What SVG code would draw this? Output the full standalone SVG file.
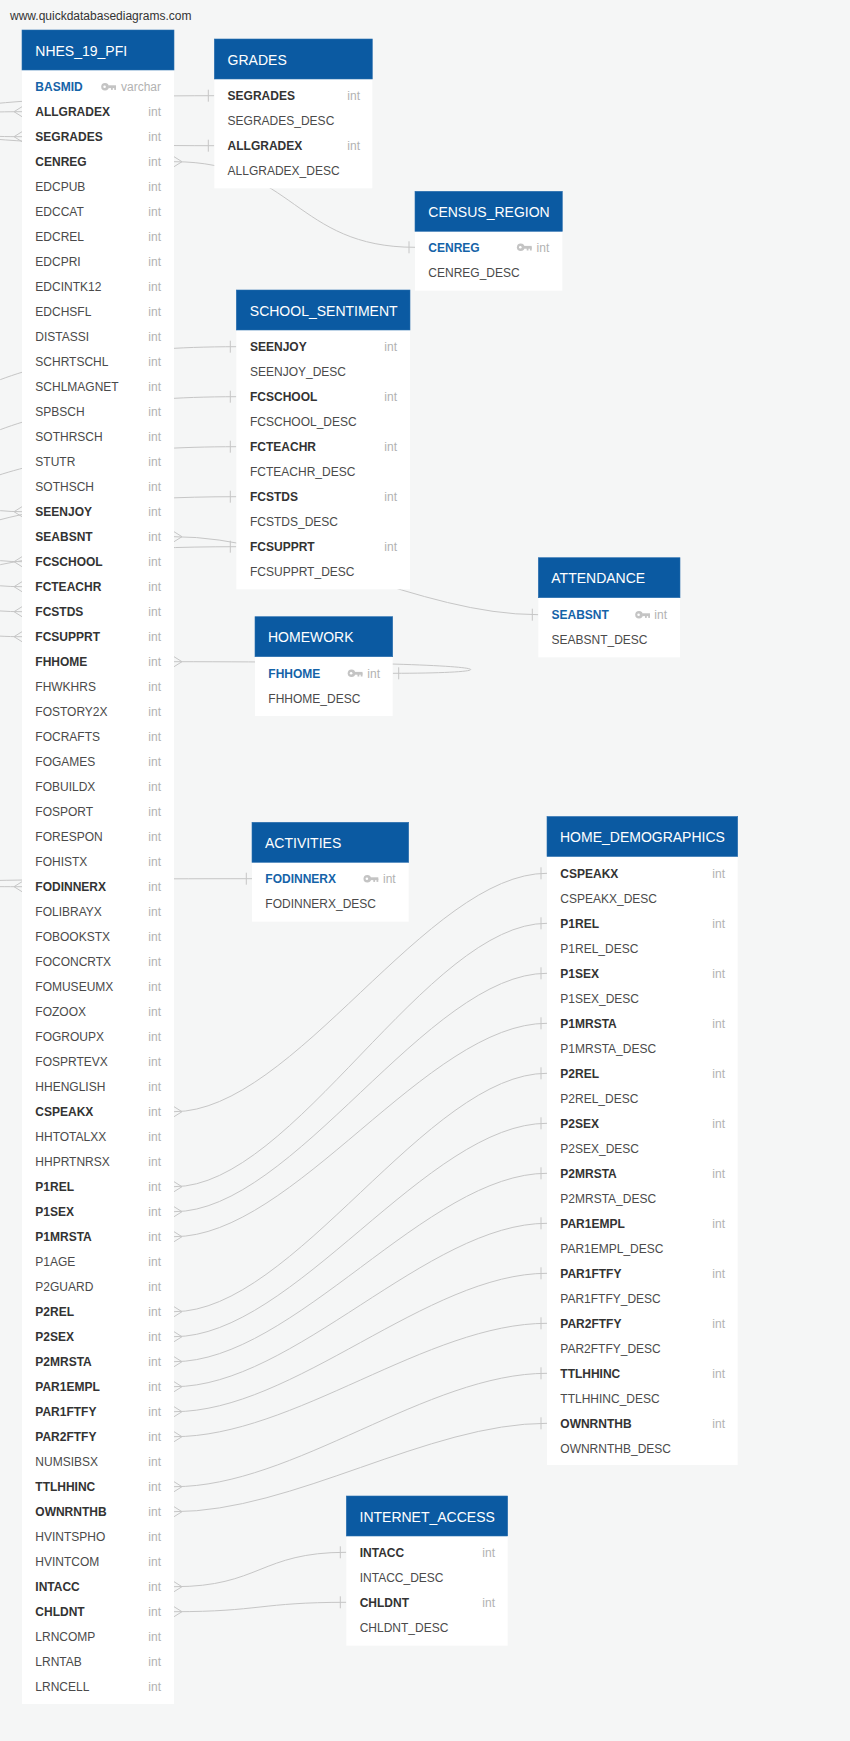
<svg xmlns="http://www.w3.org/2000/svg" xmlns:xlink="http://www.w3.org/1999/xlink" width="850" height="1741" viewBox="0 0 850 1741">
<style>
text{font-family:"Liberation Sans",Arial,sans-serif;}
.hdr{fill:#0b5aa2;stroke:#2a6fb0;stroke-width:0.6}
.body{fill:#ffffff}
.ht{font-size:14px;fill:#ffffff}
.c{font-size:12px;fill:#4a4a4a}
.fk{font-size:12px;fill:#333333;font-weight:bold}
.pk{font-size:12px;fill:#1563a8;font-weight:bold}
.t{font-size:12px;fill:#b2b2b2;text-anchor:end}
.ln{fill:none;stroke:#c6c6c6;stroke-width:1}
.mk{fill:none;stroke:#c6c6c6;stroke-width:1}
.wm{font-size:12px;fill:#333333}
</style>
<defs>
<path id="crowR" class="mk" d="M0,-5 L8,0 L0,5"/>
<path id="crowL" class="mk" d="M0,-5 L-8,0 L0,5"/>
<path id="bar" class="mk" d="M0,-6 V6"/>
<g id="key">
<circle cx="4" cy="0" r="3.8" fill="#c4c4c4"/>
<circle cx="3.6" cy="0" r="1.3" fill="#ffffff"/>
<rect x="7.2" y="-1.4" width="7.8" height="2.8" fill="#c4c4c4"/>
<rect x="10" y="0" width="1.8" height="3.2" fill="#c4c4c4"/>
<rect x="13.2" y="0" width="1.8" height="3.2" fill="#c4c4c4"/>
</g>
</defs>
<rect x="0" y="0" width="850" height="1741" fill="#f5f6f6"/>
<text class="wm" x="10" y="20">www.quickdatabasediagrams.com</text>

<g id="connectors">
<path class="ln" d="M22,111.7 C-140,111.7 -140,145.7 214.3,145.7"/>
<path class="ln" d="M22,136.7 C-140,136.7 -140,95.7 214.3,95.7"/>
<path class="ln" d="M22,511.7 C-140,511.7 -140,346.7 236.3,346.7"/>
<path class="ln" d="M22,561.7 C-140,561.7 -140,396.7 236.3,396.7"/>
<path class="ln" d="M22,586.7 C-140,586.7 -140,446.7 236.3,446.7"/>
<path class="ln" d="M22,611.7 C-140,611.7 -140,496.7 236.3,496.7"/>
<path class="ln" d="M22,636.7 C-140,636.7 -140,546.7 236.3,546.7"/>
<path class="ln" d="M22,886.7 C-140,886.7 -140,878.7 252,878.7"/>
<path class="ln" d="M174,161.7 C294,161.7 295,247.3 415,247.3"/>
<path class="ln" d="M174,536.7 C294,536.7 418,614.7 538.3,614.7"/>
<path class="ln" d="M174,661.7 C520,661.7 520,673.3 392.7,673.3"/>
<path class="ln" d="M174,1111.7 C294,1111.7 427,873.3 547,873.3"/>
<path class="ln" d="M174,1186.7 C294,1186.7 427,923.3 547,923.3"/>
<path class="ln" d="M174,1211.7 C294,1211.7 427,973.3 547,973.3"/>
<path class="ln" d="M174,1236.7 C294,1236.7 427,1023.3 547,1023.3"/>
<path class="ln" d="M174,1311.7 C294,1311.7 427,1073.3 547,1073.3"/>
<path class="ln" d="M174,1336.7 C294,1336.7 427,1123.3 547,1123.3"/>
<path class="ln" d="M174,1361.7 C294,1361.7 427,1173.3 547,1173.3"/>
<path class="ln" d="M174,1386.7 C294,1386.7 427,1223.3 547,1223.3"/>
<path class="ln" d="M174,1411.7 C294,1411.7 427,1273.3 547,1273.3"/>
<path class="ln" d="M174,1436.7 C294,1436.7 427,1323.3 547,1323.3"/>
<path class="ln" d="M174,1486.7 C294,1486.7 427,1373.3 547,1373.3"/>
<path class="ln" d="M174,1511.7 C294,1511.7 427,1423.3 547,1423.3"/>
<path class="ln" d="M174,1586.7 C260,1586.7 260,1552.3 346.3,1552.3"/>
<path class="ln" d="M174,1611.7 C260,1611.7 260,1602.3 346.3,1602.3"/>
<use xlink:href="#crowL" x="22" y="111.7"/>
<use xlink:href="#crowL" x="22" y="136.7"/>
<use xlink:href="#crowL" x="22" y="511.7"/>
<use xlink:href="#crowL" x="22" y="561.7"/>
<use xlink:href="#crowL" x="22" y="586.7"/>
<use xlink:href="#crowL" x="22" y="611.7"/>
<use xlink:href="#crowL" x="22" y="636.7"/>
<use xlink:href="#crowL" x="22" y="886.7"/>
<use xlink:href="#crowR" x="174" y="161.7"/>
<use xlink:href="#crowR" x="174" y="536.7"/>
<use xlink:href="#crowR" x="174" y="661.7"/>
<use xlink:href="#crowR" x="174" y="1111.7"/>
<use xlink:href="#crowR" x="174" y="1186.7"/>
<use xlink:href="#crowR" x="174" y="1211.7"/>
<use xlink:href="#crowR" x="174" y="1236.7"/>
<use xlink:href="#crowR" x="174" y="1311.7"/>
<use xlink:href="#crowR" x="174" y="1336.7"/>
<use xlink:href="#crowR" x="174" y="1361.7"/>
<use xlink:href="#crowR" x="174" y="1386.7"/>
<use xlink:href="#crowR" x="174" y="1411.7"/>
<use xlink:href="#crowR" x="174" y="1436.7"/>
<use xlink:href="#crowR" x="174" y="1486.7"/>
<use xlink:href="#crowR" x="174" y="1511.7"/>
<use xlink:href="#crowR" x="174" y="1586.7"/>
<use xlink:href="#crowR" x="174" y="1611.7"/>
<use xlink:href="#bar" x="208.3" y="95.7"/>
<use xlink:href="#bar" x="208.3" y="145.7"/>
<use xlink:href="#bar" x="409" y="247.3"/>
<use xlink:href="#bar" x="230.3" y="346.7"/>
<use xlink:href="#bar" x="230.3" y="396.7"/>
<use xlink:href="#bar" x="230.3" y="446.7"/>
<use xlink:href="#bar" x="230.3" y="496.7"/>
<use xlink:href="#bar" x="230.3" y="546.7"/>
<use xlink:href="#bar" x="532.3" y="614.7"/>
<use xlink:href="#bar" x="398.7" y="673.3"/>
<use xlink:href="#bar" x="246.3" y="878.7"/>
<use xlink:href="#bar" x="541" y="873.3"/>
<use xlink:href="#bar" x="541" y="923.3"/>
<use xlink:href="#bar" x="541" y="973.3"/>
<use xlink:href="#bar" x="541" y="1023.3"/>
<use xlink:href="#bar" x="541" y="1073.3"/>
<use xlink:href="#bar" x="541" y="1123.3"/>
<use xlink:href="#bar" x="541" y="1173.3"/>
<use xlink:href="#bar" x="541" y="1223.3"/>
<use xlink:href="#bar" x="541" y="1273.3"/>
<use xlink:href="#bar" x="541" y="1323.3"/>
<use xlink:href="#bar" x="541" y="1373.3"/>
<use xlink:href="#bar" x="541" y="1423.3"/>
<use xlink:href="#bar" x="340.3" y="1552.3"/>
<use xlink:href="#bar" x="340.3" y="1602.3"/>
</g>

<g id="NHES_19_PFI">
<rect class="body" x="22" y="70" width="152" height="1634"/>
<rect class="hdr" x="22" y="30" width="152" height="40"/>
<text class="ht" x="35.3" y="55.5">NHES_19_PFI</text>
<text class="pk" x="35.3" y="91">BASMID</text><use xlink:href="#key" x="101" y="86.7"/><text class="t" x="161" y="91">varchar</text>
<text class="fk" x="35.3" y="116">ALLGRADEX</text><text class="t" x="161" y="116">int</text>
<text class="fk" x="35.3" y="141">SEGRADES</text><text class="t" x="161" y="141">int</text>
<text class="fk" x="35.3" y="166">CENREG</text><text class="t" x="161" y="166">int</text>
<text class="c" x="35.3" y="191">EDCPUB</text><text class="t" x="161" y="191">int</text>
<text class="c" x="35.3" y="216">EDCCAT</text><text class="t" x="161" y="216">int</text>
<text class="c" x="35.3" y="241">EDCREL</text><text class="t" x="161" y="241">int</text>
<text class="c" x="35.3" y="266">EDCPRI</text><text class="t" x="161" y="266">int</text>
<text class="c" x="35.3" y="291">EDCINTK12</text><text class="t" x="161" y="291">int</text>
<text class="c" x="35.3" y="316">EDCHSFL</text><text class="t" x="161" y="316">int</text>
<text class="c" x="35.3" y="341">DISTASSI</text><text class="t" x="161" y="341">int</text>
<text class="c" x="35.3" y="366">SCHRTSCHL</text><text class="t" x="161" y="366">int</text>
<text class="c" x="35.3" y="391">SCHLMAGNET</text><text class="t" x="161" y="391">int</text>
<text class="c" x="35.3" y="416">SPBSCH</text><text class="t" x="161" y="416">int</text>
<text class="c" x="35.3" y="441">SOTHRSCH</text><text class="t" x="161" y="441">int</text>
<text class="c" x="35.3" y="466">STUTR</text><text class="t" x="161" y="466">int</text>
<text class="c" x="35.3" y="491">SOTHSCH</text><text class="t" x="161" y="491">int</text>
<text class="fk" x="35.3" y="516">SEENJOY</text><text class="t" x="161" y="516">int</text>
<text class="fk" x="35.3" y="541">SEABSNT</text><text class="t" x="161" y="541">int</text>
<text class="fk" x="35.3" y="566">FCSCHOOL</text><text class="t" x="161" y="566">int</text>
<text class="fk" x="35.3" y="591">FCTEACHR</text><text class="t" x="161" y="591">int</text>
<text class="fk" x="35.3" y="616">FCSTDS</text><text class="t" x="161" y="616">int</text>
<text class="fk" x="35.3" y="641">FCSUPPRT</text><text class="t" x="161" y="641">int</text>
<text class="fk" x="35.3" y="666">FHHOME</text><text class="t" x="161" y="666">int</text>
<text class="c" x="35.3" y="691">FHWKHRS</text><text class="t" x="161" y="691">int</text>
<text class="c" x="35.3" y="716">FOSTORY2X</text><text class="t" x="161" y="716">int</text>
<text class="c" x="35.3" y="741">FOCRAFTS</text><text class="t" x="161" y="741">int</text>
<text class="c" x="35.3" y="766">FOGAMES</text><text class="t" x="161" y="766">int</text>
<text class="c" x="35.3" y="791">FOBUILDX</text><text class="t" x="161" y="791">int</text>
<text class="c" x="35.3" y="816">FOSPORT</text><text class="t" x="161" y="816">int</text>
<text class="c" x="35.3" y="841">FORESPON</text><text class="t" x="161" y="841">int</text>
<text class="c" x="35.3" y="866">FOHISTX</text><text class="t" x="161" y="866">int</text>
<text class="fk" x="35.3" y="891">FODINNERX</text><text class="t" x="161" y="891">int</text>
<text class="c" x="35.3" y="916">FOLIBRAYX</text><text class="t" x="161" y="916">int</text>
<text class="c" x="35.3" y="941">FOBOOKSTX</text><text class="t" x="161" y="941">int</text>
<text class="c" x="35.3" y="966">FOCONCRTX</text><text class="t" x="161" y="966">int</text>
<text class="c" x="35.3" y="991">FOMUSEUMX</text><text class="t" x="161" y="991">int</text>
<text class="c" x="35.3" y="1016">FOZOOX</text><text class="t" x="161" y="1016">int</text>
<text class="c" x="35.3" y="1041">FOGROUPX</text><text class="t" x="161" y="1041">int</text>
<text class="c" x="35.3" y="1066">FOSPRTEVX</text><text class="t" x="161" y="1066">int</text>
<text class="c" x="35.3" y="1091">HHENGLISH</text><text class="t" x="161" y="1091">int</text>
<text class="fk" x="35.3" y="1116">CSPEAKX</text><text class="t" x="161" y="1116">int</text>
<text class="c" x="35.3" y="1141">HHTOTALXX</text><text class="t" x="161" y="1141">int</text>
<text class="c" x="35.3" y="1166">HHPRTNRSX</text><text class="t" x="161" y="1166">int</text>
<text class="fk" x="35.3" y="1191">P1REL</text><text class="t" x="161" y="1191">int</text>
<text class="fk" x="35.3" y="1216">P1SEX</text><text class="t" x="161" y="1216">int</text>
<text class="fk" x="35.3" y="1241">P1MRSTA</text><text class="t" x="161" y="1241">int</text>
<text class="c" x="35.3" y="1266">P1AGE</text><text class="t" x="161" y="1266">int</text>
<text class="c" x="35.3" y="1291">P2GUARD</text><text class="t" x="161" y="1291">int</text>
<text class="fk" x="35.3" y="1316">P2REL</text><text class="t" x="161" y="1316">int</text>
<text class="fk" x="35.3" y="1341">P2SEX</text><text class="t" x="161" y="1341">int</text>
<text class="fk" x="35.3" y="1366">P2MRSTA</text><text class="t" x="161" y="1366">int</text>
<text class="fk" x="35.3" y="1391">PAR1EMPL</text><text class="t" x="161" y="1391">int</text>
<text class="fk" x="35.3" y="1416">PAR1FTFY</text><text class="t" x="161" y="1416">int</text>
<text class="fk" x="35.3" y="1441">PAR2FTFY</text><text class="t" x="161" y="1441">int</text>
<text class="c" x="35.3" y="1466">NUMSIBSX</text><text class="t" x="161" y="1466">int</text>
<text class="fk" x="35.3" y="1491">TTLHHINC</text><text class="t" x="161" y="1491">int</text>
<text class="fk" x="35.3" y="1516">OWNRNTHB</text><text class="t" x="161" y="1516">int</text>
<text class="c" x="35.3" y="1541">HVINTSPHO</text><text class="t" x="161" y="1541">int</text>
<text class="c" x="35.3" y="1566">HVINTCOM</text><text class="t" x="161" y="1566">int</text>
<text class="fk" x="35.3" y="1591">INTACC</text><text class="t" x="161" y="1591">int</text>
<text class="fk" x="35.3" y="1616">CHLDNT</text><text class="t" x="161" y="1616">int</text>
<text class="c" x="35.3" y="1641">LRNCOMP</text><text class="t" x="161" y="1641">int</text>
<text class="c" x="35.3" y="1666">LRNTAB</text><text class="t" x="161" y="1666">int</text>
<text class="c" x="35.3" y="1691">LRNCELL</text><text class="t" x="161" y="1691">int</text>
</g>

<g id="GRADES">
<rect class="body" x="214.3" y="79" width="158" height="109.3"/>
<rect class="hdr" x="214.3" y="39" width="158" height="40"/>
<text class="ht" x="227.6" y="64.5">GRADES</text>
<text class="fk" x="227.6" y="100">SEGRADES</text><text class="t" x="360" y="100">int</text>
<text class="c" x="227.6" y="125">SEGRADES_DESC</text>
<text class="fk" x="227.6" y="150">ALLGRADEX</text><text class="t" x="360" y="150">int</text>
<text class="c" x="227.6" y="175">ALLGRADEX_DESC</text>
</g>

<g id="CENSUS_REGION">
<rect class="body" x="415" y="231" width="147.3" height="59.7"/>
<rect class="hdr" x="415" y="191.3" width="147.3" height="40"/>
<text class="ht" x="428.3" y="216.8">CENSUS_REGION</text>
<text class="pk" x="428.3" y="251.6">CENREG</text><use xlink:href="#key" x="516.7" y="247.3"/><text class="t" x="549.3" y="251.6">int</text>
<text class="c" x="428.3" y="276.6">CENREG_DESC</text>
</g>

<g id="SCHOOL_SENTIMENT">
<rect class="body" x="236.3" y="330" width="173.7" height="259.3"/>
<rect class="hdr" x="236.3" y="290" width="173.7" height="40"/>
<text class="ht" x="249.8" y="315.5">SCHOOL_SENTIMENT</text>
<text class="fk" x="250" y="351">SEENJOY</text><text class="t" x="397" y="351">int</text>
<text class="c" x="250" y="376">SEENJOY_DESC</text>
<text class="fk" x="250" y="401">FCSCHOOL</text><text class="t" x="397" y="401">int</text>
<text class="c" x="250" y="426">FCSCHOOL_DESC</text>
<text class="fk" x="250" y="451">FCTEACHR</text><text class="t" x="397" y="451">int</text>
<text class="c" x="250" y="476">FCTEACHR_DESC</text>
<text class="fk" x="250" y="501">FCSTDS</text><text class="t" x="397" y="501">int</text>
<text class="c" x="250" y="526">FCSTDS_DESC</text>
<text class="fk" x="250" y="551">FCSUPPRT</text><text class="t" x="397" y="551">int</text>
<text class="c" x="250" y="576">FCSUPPRT_DESC</text>
</g>

<g id="HOMEWORK">
<rect class="body" x="255" y="656.7" width="137.7" height="59.3"/>
<rect class="hdr" x="255" y="616.7" width="137.7" height="40"/>
<text class="ht" x="268" y="642.2">HOMEWORK</text>
<text class="pk" x="268.3" y="677.6">FHHOME</text><use xlink:href="#key" x="347.5" y="673.3"/><text class="t" x="380" y="677.6">int</text>
<text class="c" x="268.3" y="702.6">FHHOME_DESC</text>
</g>

<g id="ATTENDANCE">
<rect class="body" x="538.3" y="597.7" width="141.7" height="59.6"/>
<rect class="hdr" x="538.3" y="557.7" width="141.7" height="40"/>
<text class="ht" x="551.3" y="583.2">ATTENDANCE</text>
<text class="pk" x="551.5" y="619">SEABSNT</text><use xlink:href="#key" x="635" y="614.7"/><text class="t" x="667" y="619">int</text>
<text class="c" x="551.5" y="644">SEABSNT_DESC</text>
</g>

<g id="ACTIVITIES">
<rect class="body" x="252" y="862" width="156.7" height="59.7"/>
<rect class="hdr" x="252" y="822.3" width="156.7" height="40"/>
<text class="ht" x="265" y="847.8">ACTIVITIES</text>
<text class="pk" x="265.3" y="883">FODINNERX</text><use xlink:href="#key" x="363.3" y="878.7"/><text class="t" x="395.7" y="883">int</text>
<text class="c" x="265.3" y="908">FODINNERX_DESC</text>
</g>

<g id="HOME_DEMOGRAPHICS">
<rect class="body" x="547" y="856.5" width="190.7" height="608.5"/>
<rect class="hdr" x="547" y="816.5" width="190.7" height="40"/>
<text class="ht" x="560" y="842">HOME_DEMOGRAPHICS</text>
<text class="fk" x="560.3" y="877.6">CSPEAKX</text><text class="t" x="725" y="877.6">int</text>
<text class="c" x="560.3" y="902.6">CSPEAKX_DESC</text>
<text class="fk" x="560.3" y="927.6">P1REL</text><text class="t" x="725" y="927.6">int</text>
<text class="c" x="560.3" y="952.6">P1REL_DESC</text>
<text class="fk" x="560.3" y="977.6">P1SEX</text><text class="t" x="725" y="977.6">int</text>
<text class="c" x="560.3" y="1002.6">P1SEX_DESC</text>
<text class="fk" x="560.3" y="1027.6">P1MRSTA</text><text class="t" x="725" y="1027.6">int</text>
<text class="c" x="560.3" y="1052.6">P1MRSTA_DESC</text>
<text class="fk" x="560.3" y="1077.6">P2REL</text><text class="t" x="725" y="1077.6">int</text>
<text class="c" x="560.3" y="1102.6">P2REL_DESC</text>
<text class="fk" x="560.3" y="1127.6">P2SEX</text><text class="t" x="725" y="1127.6">int</text>
<text class="c" x="560.3" y="1152.6">P2SEX_DESC</text>
<text class="fk" x="560.3" y="1177.6">P2MRSTA</text><text class="t" x="725" y="1177.6">int</text>
<text class="c" x="560.3" y="1202.6">P2MRSTA_DESC</text>
<text class="fk" x="560.3" y="1227.6">PAR1EMPL</text><text class="t" x="725" y="1227.6">int</text>
<text class="c" x="560.3" y="1252.6">PAR1EMPL_DESC</text>
<text class="fk" x="560.3" y="1277.6">PAR1FTFY</text><text class="t" x="725" y="1277.6">int</text>
<text class="c" x="560.3" y="1302.6">PAR1FTFY_DESC</text>
<text class="fk" x="560.3" y="1327.6">PAR2FTFY</text><text class="t" x="725" y="1327.6">int</text>
<text class="c" x="560.3" y="1352.6">PAR2FTFY_DESC</text>
<text class="fk" x="560.3" y="1377.6">TTLHHINC</text><text class="t" x="725" y="1377.6">int</text>
<text class="c" x="560.3" y="1402.6">TTLHHINC_DESC</text>
<text class="fk" x="560.3" y="1427.6">OWNRNTHB</text><text class="t" x="725" y="1427.6">int</text>
<text class="c" x="560.3" y="1452.6">OWNRNTHB_DESC</text>
</g>

<g id="INTERNET_ACCESS">
<rect class="body" x="346.3" y="1535.7" width="161.4" height="110"/>
<rect class="hdr" x="346.3" y="1496" width="161.4" height="40"/>
<text class="ht" x="359.5" y="1521.5">INTERNET_ACCESS</text>
<text class="fk" x="359.7" y="1556.6">INTACC</text><text class="t" x="495" y="1556.6">int</text>
<text class="c" x="359.7" y="1581.6">INTACC_DESC</text>
<text class="fk" x="359.7" y="1606.6">CHLDNT</text><text class="t" x="495" y="1606.6">int</text>
<text class="c" x="359.7" y="1631.6">CHLDNT_DESC</text>
</g>
</svg>
